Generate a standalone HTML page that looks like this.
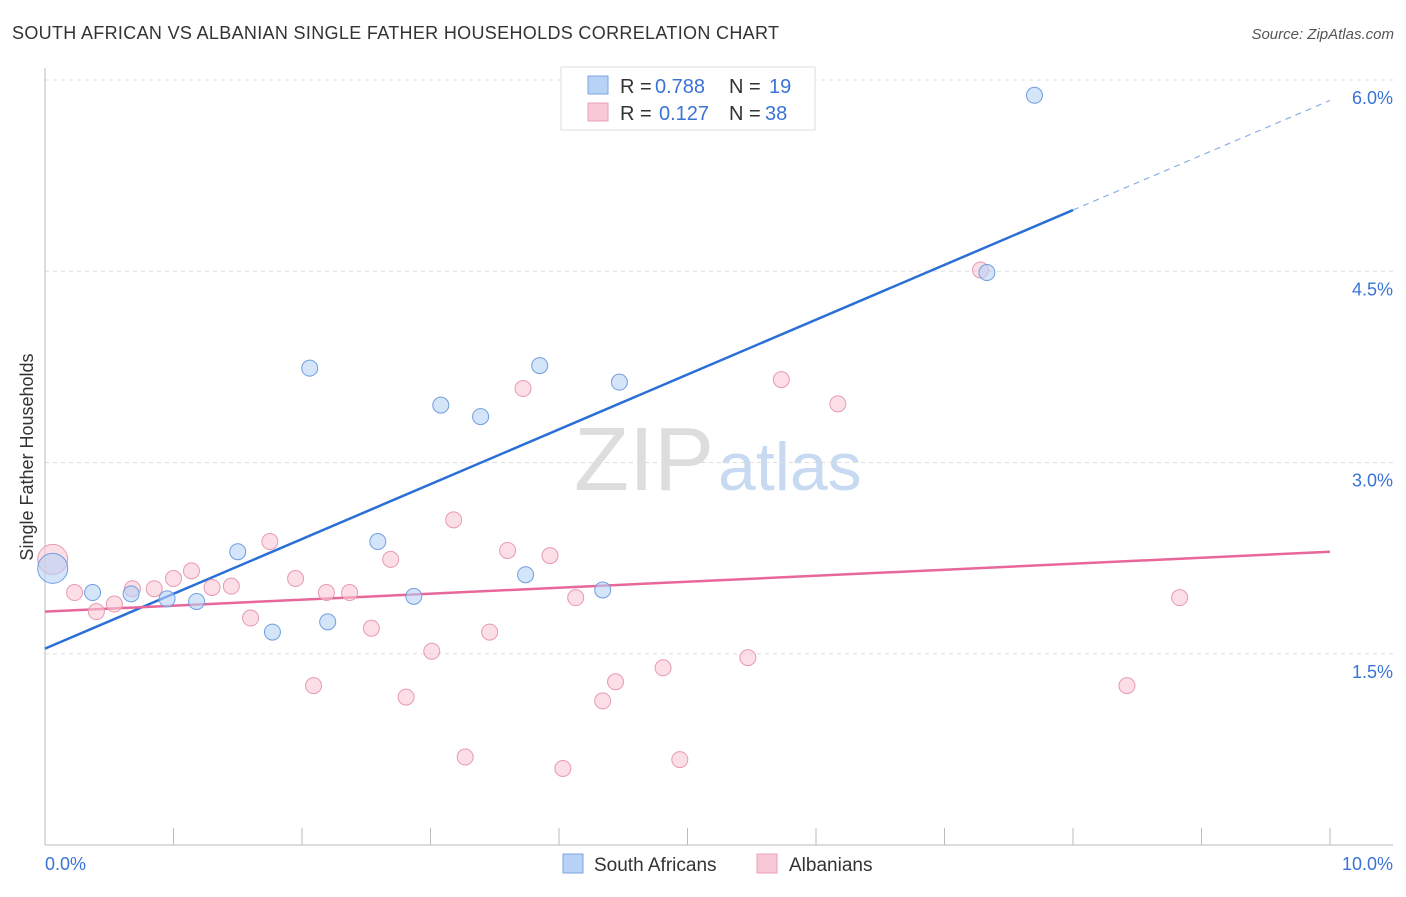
<!DOCTYPE html>
<html><head><meta charset="utf-8"><style>
body{margin:0;background:#fff;font-family:"Liberation Sans",sans-serif}
svg text{font-family:"Liberation Sans",sans-serif}
</style></head><body>
<svg id="c" width="1406" height="892" xmlns="http://www.w3.org/2000/svg">
<text x="12" y="39" font-size="18" fill="#333" textLength="767">SOUTH AFRICAN VS ALBANIAN SINGLE FATHER HOUSEHOLDS CORRELATION CHART</text>
<text x="1394" y="39" font-size="15" fill="#555" text-anchor="end" font-style="italic">Source: ZipAtlas.com</text>
<text x="33" y="457" font-size="18" fill="#333" text-anchor="middle" transform="rotate(-90 33 457)">Single Father Households</text>
<text x="714" y="490" font-size="90" fill="#ddd" text-anchor="end" font-family="Liberation Serif">ZIP</text>
<text x="718" y="490" font-size="68" fill="#c8daf2">atlas</text>
<g id="grid"></g><g id="axes"></g><g id="lines"></g><g id="pts"></g>
<g>
<rect x="561" y="67" width="254" height="63" fill="#fff" stroke="#ddd"/>
<rect x="588" y="76" width="20" height="18" fill="#b8d2f5" stroke="#7aa6e0"/>
<text x="620" y="93" font-size="20" fill="#333">R =</text><text x="655" y="93" font-size="20" fill="#3a73d6">0.788</text>
<text x="729" y="93" font-size="20" fill="#333">N =</text><text x="769" y="93" font-size="20" fill="#3a73d6">19</text>
<rect x="588" y="103" width="20" height="18" fill="#f9c8d6" stroke="#eaa0b6"/>
<text x="620" y="120" font-size="20" fill="#333">R =</text><text x="659" y="120" font-size="20" fill="#3a73d6">0.127</text>
<text x="729" y="120" font-size="20" fill="#333">N =</text><text x="765" y="120" font-size="20" fill="#3a73d6">38</text>
</g>
<g>
<rect x="563" y="854" width="20" height="19" fill="#b8d2f5" stroke="#7aa6e0"/>
<text x="594" y="871" font-size="19" fill="#333">South Africans</text>
<rect x="757" y="854" width="20" height="19" fill="#f9c8d6" stroke="#eaa0b6"/>
<text x="789" y="871" font-size="19" fill="#333">Albanians</text>
</g>
</svg>
<script>
const blueX=[0.06,0.37,0.67,0.95,1.18,1.50,1.77,2.06,2.20,2.59,2.87,3.08,3.39,3.74,3.85,4.34,4.47,7.33,7.70];
const blueY=[2.17,1.98,1.97,1.93,1.91,2.30,1.67,3.74,1.75,2.38,1.95,3.45,3.36,2.12,3.76,2.00,3.63,4.49,5.88];
const pinkX=[0.06,0.23,0.40,0.54,0.68,0.85,1.00,1.14,1.30,1.45,1.60,1.75,1.95,2.09,2.19,2.37,2.54,2.69,2.81,3.01,3.18,3.27,3.46,3.60,3.72,3.93,4.03,4.13,4.34,4.44,4.81,4.94,5.47,5.73,6.17,7.28,8.42,8.83];
const pinkY=[2.24,1.98,1.83,1.89,2.01,2.01,2.09,2.15,2.02,2.03,1.78,2.38,2.09,1.25,1.98,1.98,1.70,2.24,1.16,1.52,2.55,0.69,1.67,2.31,3.58,2.27,0.60,1.94,1.13,1.28,1.39,0.67,1.47,3.65,3.46,4.51,1.25,1.94];
const yTicks=[1.5,3.0,4.5,6.0];
const yTickLabels=["1.5%","3.0%","4.5%","6.0%"];
const xTickLabels=["0.0%","10.0%"];
const blueTrend=[1.54,5.84];
const pinkTrend=[1.83,2.30];
const NS="http://www.w3.org/2000/svg";
const X=v=>45+v*128.5, Y=v=>845-v*127.5;
function mk(p,t,a){const e=document.createElementNS(NS,t);for(const k in a)e.setAttribute(k,a[k]);document.getElementById(p).appendChild(e);return e;}
yTicks.forEach((t,i)=>{
 let g=mk('grid','line',{x1:45,x2:1393,y1:Y(t),y2:Y(t),stroke:'#ddd','stroke-dasharray':'4,4'});
 
 
 let l=mk('grid','text',{x:1393,y:Y(t)+24,'font-size':18,fill:'#3a73d6','text-anchor':'end'});
 l.textContent=yTickLabels[i];
 
 
});
mk('axes','line',{x1:45,x2:1393,y1:845,y2:845,stroke:'#bbb'});
mk('axes','line',{x1:45,x2:45,y1:68,y2:845,stroke:'#bbb'});
for(let i=0;i<=10;i++){
 let t=mk('axes','line',{x1:X(i),x2:X(i),y1:828,y2:845,stroke:'#bbb'});
 
 
}
let a=mk('axes','text',{x:45,y:870,'font-size':18,fill:'#3a73d6'});a.textContent=xTickLabels[0];

let b=mk('axes','text',{x:1393,y:870,'font-size':18,fill:'#3a73d6','text-anchor':'end'});b.textContent=xTickLabels[1];

function pts(xs,ys,fill,st,name){xs.forEach((x,i)=>{
 let c=mk('pts','circle',{cx:X(x),cy:Y(ys[i]),r:i==0?15:8,fill:fill,stroke:st,'stroke-width':1,'fill-opacity':0.6});
 
 
});}
pts(pinkX,pinkY,'#f9c8d6','#e89ab2','albanian-point');
pts(blueX,blueY,'#b8d2f5','#6f9ee0','south-african-point');
const bm=blueTrend[0]+(blueTrend[1]-blueTrend[0])*0.8;
let l1=mk('lines','line',{x1:X(0),y1:Y(blueTrend[0]),x2:X(8),y2:Y(bm),stroke:'#2a6fd6','stroke-width':2.5});

let l2=mk('lines','line',{x1:X(8),y1:Y(bm),x2:X(10),y2:Y(blueTrend[1]),stroke:'#8ab0e8','stroke-width':1.2,'stroke-dasharray':'6,5'});

let l3=mk('lines','line',{x1:X(0),y1:Y(pinkTrend[0]),x2:X(10),y2:Y(pinkTrend[1]),stroke:'#e8679a','stroke-width':2.5});

</script>
</body></html>
